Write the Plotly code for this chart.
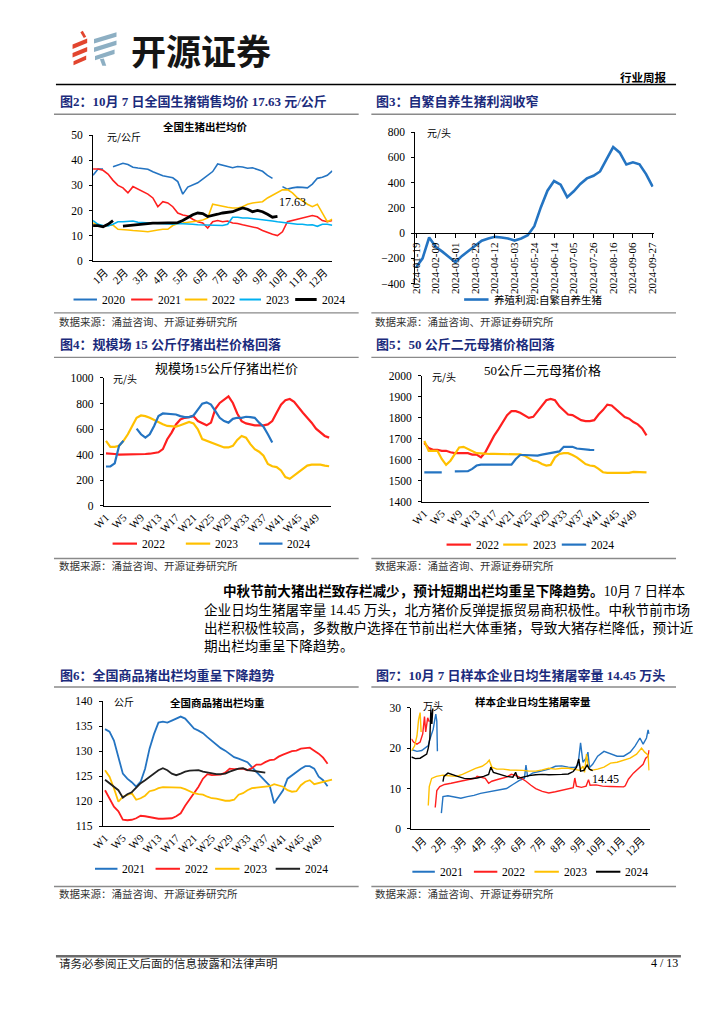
import plotly.graph_objects as go

W, H = 724, 1024


def px(x):
    return x / W


def py(y):
    return 1 - y / H


BLUE = "#2474C2"
RED = "#FF1F1F"
YELLOW = "#FFC000"
CYAN = "#00B0F0"
BLACK = "#000000"
NAVY = "#1B2B7C"
SERIF = "Liberation Serif, Noto Sans CJK SC"
CJK = "Noto Sans CJK SC"

# ---------------- data: chart 2 (全国生猪出栏均价, 元/公斤) ----------------
MONTHS = ["1月", "2月", "3月", "4月", "5月", "6月", "7月", "8月", "9月", "10月", "11月", "12月"]
MONTH_TICKS = [0.6, 1.6, 2.6, 3.6, 4.6, 5.6, 6.6, 7.6, 8.6, 9.6, 10.6, 11.6]
GRID_M = [0, 0.25, 0.5, 0.75, 1, 1.25, 1.5, 1.75, 2, 2.25, 2.5, 2.75, 3, 3.25, 3.5, 3.75,
          4, 4.25, 4.5, 4.75, 5, 5.25, 5.5, 5.75, 6, 6.25, 6.5, 6.75, 7, 7.25, 7.5, 7.75,
          8, 8.25, 8.5, 8.75, 9, 9.25, 9.5, 9.75, 10, 10.25, 10.5, 10.75, 11, 11.25, 11.5, 11.75, 12]
PRICE_2020 = [34, 36.5, 36.5, None, 37.4, 38.2, 38.8, 38.3, 37.2, 36.9, 36.8, 36.4, 35.4, 34.5, 33.8, 33.4,
              33.0, 31.5, 26.5, 29.3, 30, 31, 32.5, 33.9, 35.5, 38.5, 38, 37.2, 37, 37.5, 37.3, 36.8,
              37, 36.3, 35.6, 34, 32.8, None, 29.5, 28.5, 29, 29.3, 29.2, 29, 30.5, 32.8, 33.2, 34, 35.8]
PRICE_2021 = [36.5, 36.5, 36, 34.5, 32, 30, 29, 27, 29.5, 28.5, 27.5, 26.5, 25, 21.5, 23.5, 23,
              21.5, 19, 18.2, 17.8, 16.5, 15.5, 15, 13, 15.5, 16, 15.5, 15.8, 15, 14.8, 14.3, 13.8,
              13.4, 13, 12, 11.2, 10.5, 10, 11.5, 15.5, 16, 16.5, 17, 17.5, 18, 17.5, 16, 15.5, 16]
PRICE_2022 = [15, 14.5, 13.8, 14, 14.2, 12.5, 12.2, 12.2, 12, 12, 11.7, 11.5, 12, 12.2, 12.5, 12.5,
              14, 14.8, 15, 15.2, 15.5, 15.8, 16.2, 17, 22.5, 22, 21.5, 21.3, 21, 21, 21.5, 22.5,
              23, 23.2, 23.5, 25, 26, 27, 28.2, 28.3, 27, 25, 24, 22.5, 21.5, 22.5, 19, 15.5, 16.5]
PRICE_2023 = [16, 14.5, 14, 13.8, 14.5, 15.5, 15.5, 15.8, 15.8, 15.3, 15.2, 15, 15, 14.8, 14.5, 14.5,
              14.5, 14.8, 14.8, 14.8, 14.5, 14.3, 14.2, 14, 14, 14, 14, 14.5, 17.3, 17.3, 17, 17,
              16.8, 16.5, 16.3, 16, 15.8, 15.5, 15.2, 15, 14.6, 14.5, 14.5, 14.2, 14.3, 13.7, 14.5, 14.5, 14.1]
PRICE_2024 = [14, 14, 13.5, 14.5, 16, None, 13.8, 14, 14.2, 14.5, 14.8, 15, 15, 15, 15, 15,
              15, 15.2, 16, 17.3, 18.3, 19, 18.8, 17.6, 18.2, 18.5, 19, 19.3, 19.5, 20.3, 21, 20.5,
              19.5, 20, 19.5, 18.5, 17.3, 17.63]

# ---------------- data: chart 3 (养殖利润:自繁自养生猪, 元/头) ----------------
PROFIT_DATES = ["2024-01-19", "2024-01-26", "2024-02-02", "2024-02-09", "2024-02-16", "2024-02-23",
                "2024-03-01", "2024-03-08", "2024-03-15", "2024-03-22", "2024-03-29", "2024-04-05",
                "2024-04-12", "2024-04-19", "2024-04-26", "2024-05-03", "2024-05-10", "2024-05-17",
                "2024-05-24", "2024-05-31", "2024-06-07", "2024-06-14", "2024-06-21", "2024-06-28",
                "2024-07-05", "2024-07-12", "2024-07-19", "2024-07-26", "2024-08-02", "2024-08-09",
                "2024-08-16", "2024-08-23", "2024-08-30", "2024-09-06", "2024-09-13", "2024-09-20",
                "2024-09-27"]
PROFIT_TICKS = ["2024-01-19", "2024-02-09", "2024-03-01", "2024-03-22", "2024-04-12", "2024-05-03",
                "2024-05-24", "2024-06-14", "2024-07-05", "2024-07-26", "2024-08-16", "2024-09-06",
                "2024-09-27"]
PROFIT = [-272, -199, -34, -107, -146, -186, -230, -180, -141, -99, -60, -42, -29, -34, -42, -58,
          -42, -16, 55, 206, 337, 413, 384, 285, 332, 390, 434, 455, 489, 586, 682, 638, 544, 562,
          546, 468, 369]

# ---------------- weekly categories ----------------
WEEKS = ["W%d" % i for i in range(1, 53)]
WEEK_TICKS = ["W1", "W5", "W9", "W13", "W17", "W21", "W25", "W29", "W33", "W37", "W41", "W45", "W49"]

# chart 4: 规模场15公斤仔猪出栏价 (元/头)
PIGLET_2022 = [410, 410, 405, 400, 400, 400, 400, 400, 402, 405, 407, 410, 418, 443, 520, 572, 636, 675,
               688, 693, 700, 662, 644, 629, 650, 758, 804, 830, 856, 804, 722, 662, 644, 637, 629, 629,
               629, 636, 662, 727, 791, 825, 835, 812, 765, 727, 688, 650, 603, 577, 546, 533]
PIGLET_2023 = [508, 461, 461, 469, 508, 559, 624, 688, 706, 701, 688, 670, 655, 637, 624, 619, 619, 629,
               644, 655, 644, 598, 521, 508, 500, 482, 469, 456, 456, 469, 515, 546, 533, 482, 443, 423,
               392, 327, 309, 302, 276, 224, 211, 237, 263, 294, 314, 322, 322, 322, 314, 309]
PIGLET_2024 = [307, 307, 332, 469, 508, None, None, 603, 559, 533, 559, 624, 701, 722, 719, 719, 714, 701,
               693, 693, 706, 752, 799, 809, 791, 740, 688, 662, 650, 680, 688, 688, 696, 693, 688, 650,
               619, 559, 495]

# chart 5: 50公斤二元母猪价格 (元/头)
SOW_2022 = [1680, 1656, 1648, 1648, 1643, 1643, 1636, 1632, 1632, 1632, 1632, 1625, 1625, 1612, 1636, 1675,
            1714, 1745, 1780, 1813, 1832, 1832, 1824, 1811, 1800, 1805, 1832, 1855, 1884, 1890, 1884, 1855,
            1837, 1816, 1813, 1800, 1789, 1785, 1785, 1789, 1816, 1837, 1863, 1859, 1840, 1821, 1804, 1796,
            1780, 1769, 1750, 1717]
SOW_2023 = [1690, 1643, 1643, 1643, 1604, 1576, 1596, 1628, 1659, 1662, 1651, 1639, 1632, 1631, 1628, 1628,
            1628, 1628, 1628, 1628, 1628, 1628, 1626, 1620, 1607, 1596, 1592, 1580, 1573, 1576, 1612, 1628,
            1632, 1632, 1623, 1612, 1596, 1580, 1573, 1570, 1557, 1541, 1538, 1538, 1538, 1538, 1538, 1538,
            1543, 1543, 1543, 1540]
SOW_2024 = [1540, 1540, 1540, 1540, 1540, None, None, 1545, 1545, 1545, 1546, 1557, 1573, 1577, 1577, 1577,
            1576, 1576, 1576, 1576, 1577, 1604, 1623, 1623, 1623, 1620, 1620, 1625, 1628, 1632, 1636, 1640,
            1662, 1662, 1662, 1654, 1651, 1651, 1648, 1647]

# chart 6: 全国商品猪出栏均重 (公斤)
WEIGHT_2021 = [134.4, 133.9, 132.1, 128.5, 125.5, 124.5, 123.8, 122.9, 123.9, 126.5, 130.5, 133.4, 135.7,
               135.9, 135.7, 136.1, 136.5, 136.9, 136.5, 135.4, 134.5, 134.1, 133.6, 132.8, 132.1, 131.3,
               130.6, 130.1, 129.5, 128.8, 128.5, 128.2, 127.8, 126.8, 125.9, 124.9, 124.0, 123.1, 119.6,
               120.9, 122.2, 124.5, 125.2, 125.9, 126.5, 127.0, 127.0, 126.5, 124.9, 124.2, 123.0]
WEIGHT_2022 = [122.2, 120.6, 118.9, 118.0, 116.3, 116.2, 116.3, 116.6, 117.1, 117.0, 116.8, 116.6, 116.5,
               116.5, 116.6, 116.6, 117.0, 117.6, 119.1, 120.3, 121.6, 122.9, 124.5, 125.4, 125.2, 125.2,
               125.3, 125.7, 126.5, 126.4, 126.4, 126.5, 126.2, 126.6, 127.3, 127.3, 127.8, 128.2, 128.3,
               128.9, 129.3, 129.6, 130.0, 130.1, 130.5, 130.6, 130.7, 130.1, 129.5, 128.7, 127.5]
WEIGHT_2023 = [126.2, 124.9, 122.6, 119.9, 120.9, 121.3, 121.6, 120.3, 120.6, 121.1, 122.0, 122.2, 122.6,
               122.8, 122.8, 122.7, 122.7, 122.7, 122.4, 122.0, 121.6, 121.4, 121.3, 120.9, 120.6, 120.5,
               120.3, 120.1, 120.1, 120.3, 121.3, 121.6, 122.2, 122.6, 122.7, 122.8, 122.9, 123.0, 123.4,
               123.1, 122.9, 122.2, 121.9, 122.0, 123.2, 123.9, 124.2, 123.4, 123.6, 123.9, 124.0, 124.3]
WEIGHT_2024 = [124.3, 123.6, 122.9, 122.2, 120.7, 121.4, 121.8, 122.7, 123.6, 124.2, 124.9, 125.5, 126.2,
               126.6, 126.2, 125.5, 125.2, 125.5, 125.9, 126.1, 126.2, 126.2, 125.9, 125.7, 125.5, 125.4,
               125.4, 125.5, 125.9, 126.2, 126.5, 126.6, 126.2, 126.1, 126.0, 125.9, 125.7]

# chart 7: 样本企业日均生猪屠宰量 (万头), x = month position
SL_2021_X = [0.03, 0.28, 0.52, 0.69, 0.85, 0.93, 1.02, 1.10, 1.18, 1.23, 1.28, 1.31, 1.40, 1.51, 1.59, 1.84,
             2.16, 2.49, 2.82, 3.15, 3.48, 3.80, 4.13, 4.46, 4.79, 5.11, 5.44, 5.69, 5.77, 5.85, 6.10, 6.43,
             6.67, 6.92, 7.25, 7.57, 7.90, 8.23, 8.39, 8.52, 8.64, 8.80, 8.89, 8.97, 9.13, 9.38, 9.70, 10.03,
             10.36, 10.69, 11.02, 11.26, 11.51, 11.67, 11.84, 11.92, 11.97]
SL_2021_Y = [19.6, 19.2, 19.4, 20.0, 20.6, 22.2, 23.5, 24.7, 27.1, 28.4, 26.7, 19.2, None, 3.9, 8.0, 8.2,
             7.9, 7.6, 8.0, 8.3, 8.8, 9.1, 9.4, 9.6, 10.0, 11.0, 12.0, 12.5, 15.8, 13.0, 13.8, 14.2,
             14.5, 14.8, 15.5, 15.6, 15.3, 15.2, 15.8, 21.3, 16.5, 17.5, 19.0, 15.2, 16.0, 18.0, 19.2, 18.5,
             18.0, 18.0, 19.0, 20.5, 22.5, 21.0, 22.5, 24.5, 23.5]
SL_2022_X = [0, 0.11, 0.28, 0.44, 0.57, 0.66, 0.72, 0.82, 0.90, 1.0, 1.20, 1.28, 1.43, 1.67, 2.0, 2.33,
             2.66, 2.98, 3.23, 3.31, 3.72, 3.89, 4.05, 4.38, 4.79, 5.03, 5.20, 5.44, 5.77, 6.02, 6.26, 6.59,
             6.92, 7.25, 7.57, 7.90, 8.15, 8.23, 8.31, 8.56, 8.80, 8.92, 9.0, 9.30, 9.62, 10.03, 10.36, 10.69,
             10.77, 10.93, 11.18, 11.43, 11.67, 11.80, 11.92, 11.97]
SL_2022_Y = [22.3, 21.5, 21.0, 21.5, 23.5, 27.8, 24.0, 27.5, 26.5, None, 5.3, 9.5, 10.5, 11.0, 11.3, 11.6,
             11.9, 12.2, 12.6, 13.0, 12.5, 11.3, 11.8, 12.3, 12.8, 13.5, 13.3, 12.8, 11.8, 10.8, 10.0, 9.3,
             8.9, 9.2, 9.6, 9.9, 10.2, 12.6, 10.6, 10.3, 10.6, 12.2, 10.8, 10.9, 10.6, 10.5, 10.4, 10.4,
             10.7, 12.3, 13.8, 15.0, 16.0, 17.5, 18.0, 19.5]
SL_2023_X = [0, 0.16, 0.28, 0.36, 0.44, 0.49, 0.6, 0.85, 0.90, 1.02, 1.26, 1.59, 1.92, 2.25, 2.57, 2.90,
             3.23, 3.56, 3.80, 3.92, 4.05, 4.30, 4.62, 4.95, 5.28, 5.61, 5.93, 6.26, 6.59, 6.92, 7.25, 7.57,
             7.90, 8.23, 8.48, 8.64, 8.72, 8.82, 8.92, 9.05, 9.38, 9.70, 10.03, 10.36, 10.69, 11.02, 11.34,
             11.59, 11.75, 11.92, 11.97]
SL_2023_Y = [19.3, 20.5, 23.0, 27.0, 28.8, 24.0, None, 5.8, 10.5, 12.5, 13.0, 13.3, 13.2, 13.0, 13.5, 14.3,
             15.0, 15.5, 16.3, 17.0, 15.3, 14.8, 14.8, 14.6, 14.6, 14.5, 14.3, 14.3, 14.6, 15.0, 14.8, 15.0,
             15.0, 14.8, 14.5, 15.5, 14.0, 18.5, 15.0, 14.5, 14.8, 15.3, 16.3, 16.5, 17.0, 17.5, 18.5,
             20.0, 19.0, 18.3, 14.5]
SL_2024_X = [0, 0.20, 0.44, 0.61, 0.77, 0.85, 0.93, 0.98, 1.03, 1.08, 1.2, 1.59, 1.64, 1.84, 2.08, 2.33,
             2.66, 2.98, 3.31, 3.64, 3.89, 4.0, 4.13, 4.46, 4.79, 5.11, 5.25, 5.36, 5.61, 5.93, 6.26, 6.59,
             6.92, 7.25, 7.57, 7.90, 8.15, 8.31, 8.43, 8.52, 8.69, 8.85, 8.97, 9.13]
SL_2024_Y = [17.8, 17.4, 17.5, 18.0, 18.5, 20.0, 22.5, 29.5, 26.0, 29.8, None, 11.7, 13.0, 13.8, 13.5, 13.0,
             12.5, 12.4, 12.6, 13.0, 13.5, 15.3, 14.0, 13.5, 13.0, 12.8, 14.0, 12.5, 12.8, 13.2, 13.4, 13.5,
             13.4, 13.4, 13.5, 13.6, 14.2, 15.2, 17.3, 14.3, 14.5, 15.8, 14.8, 14.45]

# ---------------- figure ----------------
fig = go.Figure()


def add_line(x, y, color, width, ax):
    fig.add_trace(go.Scatter(x=x, y=y, mode="lines", line=dict(color=color, width=width),
                             xaxis="x" + ax, yaxis="y" + ax, showlegend=False,
                             hoverinfo="skip", connectgaps=False))


# chart 2
add_line(GRID_M, PRICE_2020, BLUE, 1.6, "")
add_line(GRID_M, PRICE_2021, RED, 1.6, "")
add_line(GRID_M, PRICE_2022, YELLOW, 1.6, "")
add_line(GRID_M, PRICE_2023, CYAN, 1.6, "")
add_line(GRID_M[:len(PRICE_2024)], PRICE_2024, BLACK, 2.8, "")
# chart 3
add_line(PROFIT_DATES, PROFIT, BLUE, 2.6, "2")
# chart 4
add_line(WEEKS, PIGLET_2022, RED, 2.2, "3")
add_line(WEEKS, PIGLET_2023, YELLOW, 2.2, "3")
add_line(WEEKS[:len(PIGLET_2024)], PIGLET_2024, BLUE, 2.2, "3")
# chart 5
add_line(WEEKS, SOW_2022, RED, 2.2, "4")
add_line(WEEKS, SOW_2023, YELLOW, 2.2, "4")
add_line(WEEKS[:len(SOW_2024)], SOW_2024, BLUE, 2.2, "4")
# chart 6
add_line(WEEKS[:len(WEIGHT_2021)], WEIGHT_2021, BLUE, 1.8, "5")
add_line(WEEKS[:len(WEIGHT_2022)], WEIGHT_2022, RED, 1.8, "5")
add_line(WEEKS, WEIGHT_2023, YELLOW, 1.8, "5")
add_line(WEEKS[:len(WEIGHT_2024)], WEIGHT_2024, "#222222", 1.8, "5")
# chart 7
add_line(SL_2021_X, SL_2021_Y, BLUE, 1.4, "6")
add_line(SL_2022_X, SL_2022_Y, RED, 1.4, "6")
add_line(SL_2023_X, SL_2023_Y, YELLOW, 1.4, "6")
add_line(SL_2024_X, SL_2024_Y, BLACK, 1.4, "6")

TICKFONT = dict(family=SERIF, size=11.5, color="#000")


def yax(top, bottom, rng, dtick, anchor, left):
    return dict(domain=[py(bottom), py(top)], range=rng, dtick=dtick, anchor=anchor,
                showline=True, linecolor="#000", linewidth=1, ticks="outside", ticklen=3,
                tickcolor="#000", showgrid=False, zeroline=False, tickfont=TICKFONT,
                ticklabelstandoff=4, fixedrange=True)


def xax(left, right, anchor, **kw):
    d = dict(domain=[px(left), px(right)], anchor=anchor, showline=True, linecolor="#000",
             linewidth=1, showgrid=False, zeroline=False, tickfont=dict(family=SERIF, size=11, color="#000"),
             fixedrange=True)
    d.update(kw)
    return d


layout_axes = dict(
    xaxis=xax(83, 328, "y", range=[0, 12], tickvals=MONTH_TICKS, ticktext=MONTHS, tickangle=-45, ticks=""),
    yaxis=yax(130.7, 257.7, [0, 50], 10, "x", 83),
    xaxis2=xax(413, 657, "free", type="date", position=py(229.9),
               range=["2024-01-18 06:00", "2024-09-28 00:00"], tickvals=PROFIT_TICKS, ticktext=PROFIT_TICKS,
               tickangle=-90, ticks="outside", ticklen=4, tickcolor="#000"),
    yaxis2=yax(127.7, 281, [-400, 800], 200, "x2", 413),
    xaxis3=xax(94, 327, "y3", type="category", categoryorder="array", categoryarray=WEEKS,
               range=[-0.5, 51.5], tickvals=WEEK_TICKS, ticktext=WEEK_TICKS, tickangle=-45, ticks=""),
    yaxis3=yax(376.3, 505.7, [0, 1000], 200, "x3", 94),
    xaxis4=xax(420, 652, "y4", type="category", categoryorder="array", categoryarray=WEEKS,
               range=[-0.5, 51.5], tickvals=WEEK_TICKS, ticktext=WEEK_TICKS, tickangle=-45, ticks=""),
    yaxis4=yax(374.3, 501.7, [1400, 2000], 100, "x4", 420),
    xaxis5=xax(93, 330, "y5", type="category", categoryorder="array", categoryarray=WEEKS,
               range=[-0.5, 51.5], tickvals=WEEK_TICKS, ticktext=WEEK_TICKS, tickangle=-45, ticks=""),
    yaxis5=yax(703.3, 830, [115, 140], 5, "x5", 93),
    xaxis6=xax(409, 653, "y6", range=[0, 12], tickvals=MONTH_TICKS, ticktext=MONTHS, tickangle=-45, ticks=""),
    yaxis6=yax(710, 832.7, [0, 30], 10, "x6", 409),
)

ANN = []
SH = []


def txt(x, y, s, size=11, color="#000", family=SERIF, xanchor="left", yanchor="middle"):
    ANN.append(dict(x=px(x), y=py(y), xref="paper", yref="paper", text=s, showarrow=False,
                    xanchor=xanchor, yanchor=yanchor, font=dict(size=size, color=color, family=family)))


def hline(x0, x1, y, color, width):
    SH.append(dict(type="line", xref="paper", yref="paper", x0=px(x0), x1=px(x1), y0=py(y), y1=py(y),
                   line=dict(color=color, width=width)))


def poly(pts, color):
    path = "M " + " L ".join("%.5f,%.5f" % (px(a), py(b)) for a, b in pts) + " Z"
    SH.append(dict(type="path", xref="paper", yref="paper", path=path, fillcolor=color,
                   line=dict(width=0)))


def legend(items, y):
    for x0, x1, color, width, label in items:
        hline(x0, x1, y, color, width)
        txt(x1 + 3, y, label, size=11.5, family=SERIF)


# ---- header ----
LOGO_RED = "#E2452E"
LOGO_GREY = "#8DAFC3"
poly([(62, 39), (77, 33), (77, 37.5), (62, 43.5)], LOGO_RED)
poly([(62, 47.5), (77, 41.5), (77, 46), (62, 52)], LOGO_RED)
poly([(63, 56), (76, 50), (76, 54.5), (63, 60)], LOGO_RED)
poly([(70, 26.5), (72.5, 25), (76, 31), (73.5, 32.5)], LOGO_RED)
poly([(84, 33.5), (107, 26.5), (107, 31), (84, 38)], LOGO_GREY)
poly([(84, 42), (107, 35), (107, 39.5), (84, 46.5)], LOGO_GREY)
poly([(85, 50.5), (105, 44), (105, 48.5), (85, 55)], LOGO_GREY)
poly([(90, 54), (94, 53), (96.5, 60.5), (92.5, 60.5)], LOGO_GREY)
txt(120, 44, "<b>开源证券</b>", size=35, color="#151515", family=CJK)
txt(673, 72, "<b>行业周报</b>", size=11.5, family=CJK, xanchor="right")
hline(45, 680, 79.5, "#000", 1.5)

# ---- section titles & rules ----
TITLE_SIZE = 13
sections = [
    (47, 97, "图2：10月 7 日全国生猪销售均价 17.63 元/公斤"),
    (371, 97, "图3：自繁自养生猪利润收窄"),
    (47, 343, "图4：规模场 15 公斤仔猪出栏价格回落"),
    (371, 343, "图5：50 公斤二元母猪价格回落"),
    (47, 677, "图6：全国商品猪出栏均重呈下降趋势"),
    (371, 677, "图7：10月 7 日样本企业日均生猪屠宰量 14.45 万头"),
]
for x, y, s in sections:
    txt(x, y, "<b>" + s + "</b>", size=TITLE_SIZE, color=NAVY)

for y in (109.5, 355.5, 689):
    hline(43, 355, y, "#8a8a8a", 1.4)
    hline(368, 680, y, "#8a8a8a", 1.4)
SOURCE = "数据来源：涌益咨询、开源证券研究所"
for yl, yt in ((310.5, 319), (559, 566.5), (891, 898.5)):
    hline(43, 355, yl, "#8a8a8a", 1.4)
    hline(368, 680, yl, "#8a8a8a", 1.4)
    txt(46, yt, SOURCE, size=10.5, color="#333", family=CJK)
    txt(370, yt, SOURCE, size=10.5, color="#333", family=CJK)

# ---- chart titles, units, value labels ----
txt(198, 122, "<b>全国生猪出栏均价</b>", size=10.5, family=CJK, xanchor="center")
txt(95, 132, "元/公斤", size=10, family=CJK)
txt(271, 198, "17.63", size=12)
txt(423, 128, "元/头", size=10, family=CJK)
txt(220, 367, "规模场15公斤仔猪出栏价", size=13, family=SERIF, xanchor="center")
txt(101, 377, "元/头", size=10, family=CJK)
txt(543, 369, "50公斤二元母猪价格", size=13, family=SERIF, xanchor="center")
txt(428, 375, "元/头", size=10, family=CJK)
txt(210, 705, "<b>全国商品猪出栏均重</b>", size=10.5, family=CJK, xanchor="center")
txt(102, 704, "公斤", size=10, family=CJK)
txt(534, 704, "<b>样本企业日均生猪屠宰量</b>", size=10.5, family=CJK, xanchor="center")
txt(419, 708, "万头", size=10, family=CJK)
txt(608, 782, "14.45", size=12, xanchor="center")

# ---- legends ----
legend([(63, 87, BLUE, 2, "2020"), (122, 144, RED, 2, "2021"), (177, 200, YELLOW, 2, "2022"),
        (233, 255, CYAN, 2, "2023"), (290, 312, BLACK, 3, "2024")], 297)
hline(463, 488, 297, BLUE, 2.6)
txt(492, 297, "养殖利润:自繁自养生猪", size=10.5, family=CJK)
legend([(103, 128, RED, 2.2, "2022"), (178, 203, YELLOW, 2.2, "2023"), (253, 277, BLUE, 2.2, "2024")], 544)
legend([(445, 470, RED, 2.2, "2022"), (503, 528, YELLOW, 2.2, "2023"), (563, 588, BLUE, 2.2, "2024")], 545)
legend([(85, 108, BLUE, 2, "2021"), (147, 172, RED, 2, "2022"), (208, 233, YELLOW, 2, "2023"),
        (270, 295, "#222222", 2, "2024")], 873)
legend([(410, 433, BLUE, 2, "2021"), (473, 497, RED, 2, "2022"), (535, 560, YELLOW, 2, "2023"),
        (598, 623, BLACK, 2, "2024")], 876)

# ---- paragraph ----
PARA_SIZE = 13.6
txt(214, 592, "<b>中秋节前大猪出栏致存栏减少，预计短期出栏均重呈下降趋势。</b>10月 7 日样本",
    size=PARA_SIZE, family=SERIF)
txt(195, 611, "企业日均生猪屠宰量 14.45 万头，北方猪价反弹提振贸易商积极性。中秋节前市场",
    size=PARA_SIZE, family=SERIF)
txt(195, 629.5, "出栏积极性较高，多数散户选择在节前出栏大体重猪，导致大猪存栏降低，预计近",
    size=PARA_SIZE, family=SERIF)
txt(195, 648, "期出栏均重呈下降趋势。", size=PARA_SIZE, family=SERIF)

# ---- footer ----
hline(45, 685, 961.5, "#6b6b6b", 2.5)
txt(46, 968, "请务必参阅正文后面的信息披露和法律声明", size=11.5, family=CJK, color="#222")
txt(684, 968, "4 / 13", size=12, xanchor="right")

fig.update_layout(
    width=W, height=H, autosize=False,
    margin=dict(l=0, r=0, t=0, b=0, pad=0),
    paper_bgcolor="white", plot_bgcolor="white",
    showlegend=False,
    annotations=ANN, shapes=SH,
    **layout_axes,
)

fig.write_html("out.html", config={"displayModeBar": False},
               post_script="document.body.style.margin='0';document.body.style.padding='0';")
